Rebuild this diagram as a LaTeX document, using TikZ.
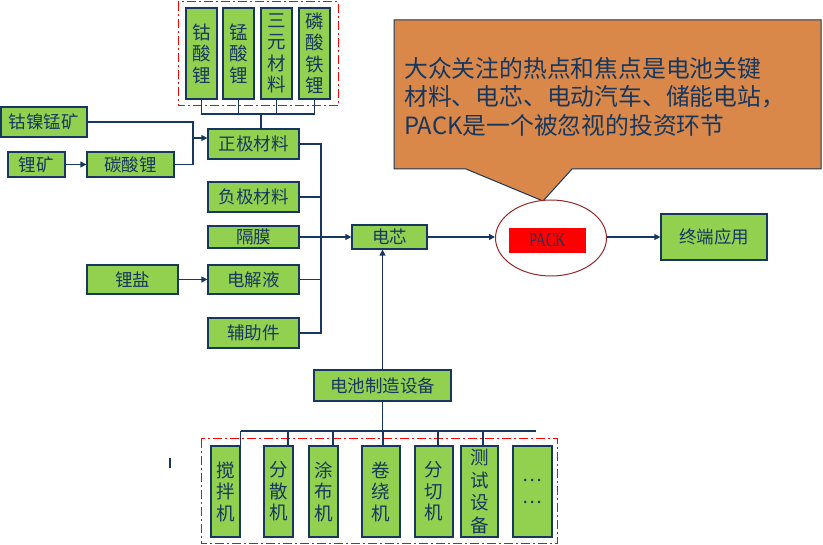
\documentclass[tikz,border=0pt]{standalone}
\usepackage{fontspec}
\setmainfont{Noto Sans CJK SC}
\newfontfamily\serifpack{Liberation Serif}
\usetikzlibrary{arrows.meta,shapes.geometric}
\definecolor{navy}{RGB}{23,55,94}
\definecolor{boxgreen}{RGB}{146,208,80}
\definecolor{callorange}{RGB}{218,136,74}
\definecolor{ellred}{RGB}{148,40,40}
\tikzset{
  box/.style={draw=navy, line width=1.2pt, fill=boxgreen, text=navy, inner sep=0pt,
    font=\fontsize{17.5}{20}\selectfont},
  vbox/.style={box, align=center, font=\fontsize{18.5}{21.5}\selectfont},
  conn/.style={draw=navy, line width=1.2pt},
  arr/.style={conn, -{Triangle[length=6pt,width=6pt]}},
  reddash/.style={draw=red, line width=1pt, dash pattern=on 9pt off 3pt on 2pt off 3pt},
}
\begin{document}
\begin{tikzpicture}[x=1pt,y=-1pt]
\useasboundingbox (0,0) rectangle (823,545);
\fill[white] (0,0) rectangle (823,545);

% callout
\path[draw=navy, line width=1pt, fill=callorange]
  (394,20) -- (821,20) -- (821,169) -- (572,169) -- (543,201) -- (466,169) -- (394,169) -- cycle;
\node[anchor=west, align=left, text=navy, inner sep=0pt,
  font=\fontsize{23.8}{28.5}\selectfont] (calltext) at (404,96.5)
  {大众关注的热点和焦点是电池关键\\材料、电芯、电动汽车、储能电站，\\PACK是一个被忽视的投资环节};

% top cathode materials
\draw[reddash] (178,2) rectangle (338,106);
\node[vbox, minimum width=31pt, minimum height=91pt] (co) at (201.5,53.5) {钴\\酸\\锂};
\node[vbox, minimum width=31pt, minimum height=91pt] (mn) at (238.5,53.5) {锰\\酸\\锂};
\node[vbox, minimum width=31pt, minimum height=91pt] (sy) at (276.5,53.5) {三\\元\\材\\料};
\node[vbox, minimum width=31pt, minimum height=91pt] (lfp) at (314.5,53.5) {磷\\酸\\铁\\锂};
\coordinate (topbus) at (261,114);
\draw[conn] (co.south) -- (co.south |- topbus) -- (lfp.south |- topbus) -- (lfp.south);
\draw[conn] (mn.south) -- (mn.south |- topbus);
\draw[conn] (sy.south) -- (sy.south |- topbus);

% left column
\node[box, minimum width=91pt, minimum height=30pt] (zj) at (253.5,144) {正极材料};
\node[box, minimum width=91pt, minimum height=30pt] (fj) at (253.5,197) {负极材料};
\node[box, minimum width=91pt, minimum height=22pt] (gm) at (253.5,237) {隔膜};
\node[box, minimum width=91pt, minimum height=29pt] (djy) at (253.5,279.5) {电解液};
\node[box, minimum width=91pt, minimum height=30pt] (fzj) at (253.5,333) {辅助件};
\draw[conn] (topbus) -- (topbus |- zj.north);

\node[box, minimum width=86pt, minimum height=30pt] (cnm) at (44,122) {钴镍锰矿};
\node[box, minimum width=57pt, minimum height=25pt] (lk) at (36.5,164.5) {锂矿};
\node[box, minimum width=87pt, minimum height=25pt] (tsl) at (130.5,164.5) {碳酸锂};
\node[box, minimum width=91pt, minimum height=29pt] (ly) at (132.5,279.5) {锂盐};

\draw[arr] (lk.east) -- (tsl.west);
\coordinate (jn) at (193,138);
\draw[conn] (cnm.east) -- (cnm.east -| jn) -- (jn |- tsl.east) -- (tsl.east);
\draw[arr] (jn) -- (jn -| zj.west);
\draw[arr] (ly.east) -- (djy.west);

% right bus to cell
\node[box, minimum width=75pt, minimum height=24pt] (dx) at (389.5,237) {电芯};
\coordinate (rbus) at (321,237);
\draw[conn] (zj.east) -- (zj.east -| rbus) -- (fzj.east -| rbus) -- (fzj.east);
\draw[conn] (fj.east) -- (fj.east -| rbus);
\draw[conn] (djy.east) -- (djy.east -| rbus);
\draw[arr] (gm.east) -- (gm.east -| dx.west);

% PACK
\node[ellipse, draw=ellred, line width=1pt, fill=white, minimum width=111pt, minimum height=76pt, inner sep=0pt] (pk) at (551,238) {};
\node[fill=red, minimum width=77pt, minimum height=25pt, inner sep=0pt, text=navy,
  font=\serifpack\fontsize{19.5}{20}\selectfont] (packlabel) at (547.5,240.5) {\scalebox{0.72}[1]{PACK}};
\node[box, minimum width=106pt, minimum height=46pt] (zd) at (714,237) {终端应用};
\draw[arr] (dx.east) -- (dx.east -| pk.west);
\draw[arr] (pk.east |- zd.west) -- (zd.west);

% equipment
\node[box, minimum width=137pt, minimum height=31pt] (sb) at (382.5,385.5) {电池制造设备};
\draw[arr] (sb.north) -- (sb.north |- dx.south);
\coordinate (bbus) at (383,431);
\coordinate (bend) at (536,431);
\draw[reddash] (201,439) rectangle (557,544);
\node[vbox, minimum width=29pt, minimum height=91pt] (jbj) at (225.5,491.5) {搅\\拌\\机};
\node[vbox, minimum width=29pt, minimum height=91pt] (fsj) at (278.5,491.5) {分\\散\\机};
\node[vbox, minimum width=29pt, minimum height=91pt] (tbj) at (323.5,491.5) {涂\\布\\机};
\node[vbox, minimum width=38pt, minimum height=91pt] (jrj) at (381,491.5) {卷\\绕\\机};
\node[vbox, minimum width=38pt, minimum height=91pt] (fqj) at (434,491.5) {分\\切\\机};
\node[vbox, minimum width=37pt, minimum height=91pt, font=\fontsize{18.5}{22.5}\selectfont] (csb) at (479.5,491.5) {测\\试\\设\\备};
\node[vbox, minimum width=39pt, minimum height=91pt] (more) at (532.5,491.5) {…\\…};
\draw[conn] (sb.south) -- (sb.south |- bbus);
\draw[conn] (jbj.north east |- bbus) -- (bend);
\draw[conn] (jbj.north east |- bbus) -- (jbj.north east);
\draw[conn] (288,431) -- (fsj.north -| 288,0);
\draw[conn] (333,431) -- (tbj.north -| 333,0);
\draw[conn] (383,431) -- (jrj.north -| 383,0);
\draw[conn] (438,431) -- (fqj.north -| 438,0);
\draw[conn] (483,431) -- (csb.north -| 483,0);
\coordinate (markt) at (170,458);
\coordinate (markb) at (170,468);
\draw[conn] (markt) -- (markb);
\end{tikzpicture}
\end{document}
